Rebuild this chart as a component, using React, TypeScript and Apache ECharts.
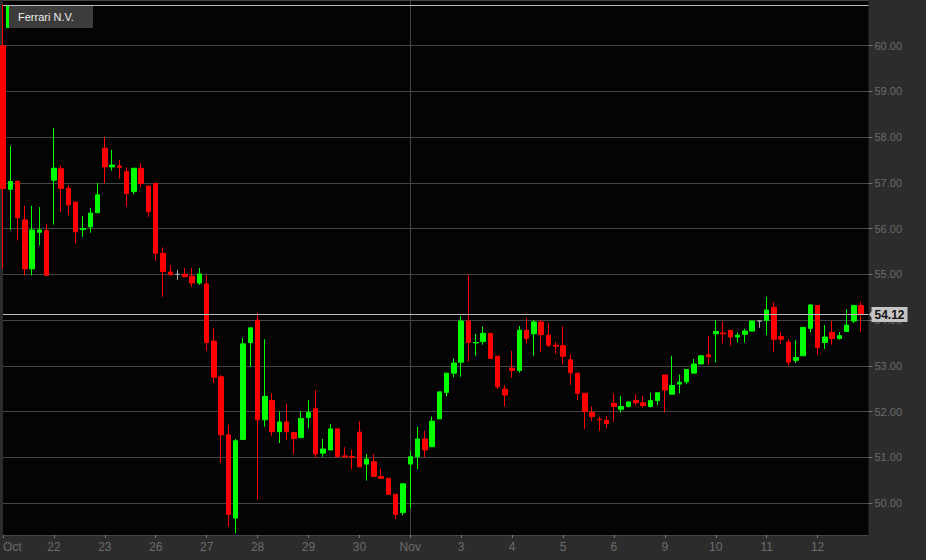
import React, { useEffect, useRef } from "react";
import * as echarts from "echarts";

// Tick labels for each trading day (first hourly candle of each day carries the label)
const dayLabels = ["Oct", "22", "23", "26", "27", "28", "29", "30", "Nov", "3", "4", "5", "6", "9", "10", "11", "12"];
const hourSlots = ["09:30", "10:30", "11:30", "12:30", "13:30", "14:30", "15:30"];

const opens = [
  60.0, 56.86, 57.03, 56.19, 55.12, 55.92, 55.96,
  57.06, 57.31, 56.88, 56.58, 55.98, 56.04, 56.35,
  57.76, 57.35, 57.37, 57.25, 56.81, 57.32, 56.93,
  56.99, 55.46, 55.05, 55.0, 55.0, 54.96, 54.81,
  54.79, 53.54, 52.76, 51.49, 49.67, 51.39, 53.51,
  54.0, 51.82, 52.24, 51.56, 51.77, 51.54, 51.43,
  51.87, 52.06, 51.09, 51.16, 51.62, 51.03, 51.02,
  51.55, 50.85, 50.9, 50.58, 50.54, 50.19, 49.79,
  50.85, 51.01, 51.4, 51.23, 51.84, 52.42, 52.84,
  53.08, 53.98, 53.5, 53.53, 53.71, 53.21, 52.49,
  52.95, 52.9, 53.78, 53.7, 53.96, 53.67, 53.45,
  53.44, 53.13, 52.84, 52.4, 51.98, 51.83, 51.81,
  52.18, 52.05, 52.11, 52.24, 52.19, 52.11, 52.24,
  52.8, 52.38, 52.6, 52.65, 52.84, 53.04, 53.24,
  53.7, 53.72, 53.77, 53.63, 53.69, 53.76, 53.98,
  53.99, 54.28, 53.64, 53.52, 53.12, 53.22, 53.82,
  54.32, 53.51, 53.73, 53.6, 53.75, 53.98, 54.32,
];
const closes = [
  56.88, 57.03, 56.24, 55.12, 55.97, 55.97, 54.98,
  57.32, 56.88, 56.52, 55.93, 56.0, 56.34, 56.74,
  57.35, 57.39, 57.34, 56.77, 57.32, 56.99, 56.37,
  55.46, 55.06, 54.99, 55.0, 54.95, 54.81, 55.01,
  53.51, 52.75, 51.49, 49.75, 51.36, 53.48, 53.83,
  51.82, 52.33, 51.56, 51.77, 51.56, 51.41, 51.85,
  51.98, 51.07, 51.18, 51.62, 51.01, 51.01, 51.0,
  50.79, 50.96, 50.58, 50.54, 50.19, 49.75, 50.42,
  51.01, 51.4, 51.16, 51.79, 52.43, 52.84, 53.06,
  53.98, 53.51, 53.51, 53.71, 53.16, 52.54, 52.36,
  52.9, 53.78, 53.6, 53.96, 53.68, 53.45, 53.43,
  53.21, 52.85, 52.4, 52.0, 51.89, 51.82, 51.74,
  52.11, 52.11, 52.21, 52.19, 52.13, 52.24, 52.41,
  52.47, 52.57, 52.64, 52.92, 53.04, 53.22, 53.2,
  53.75, 53.7, 53.63, 53.67, 53.76, 53.98, 53.98,
  54.22, 53.58, 53.58, 53.08, 53.18, 53.84, 54.33,
  53.4, 53.63, 53.6, 53.66, 53.89, 54.32, 54.12,
];
const lows = [
  55.12, 55.97, 55.74, 54.98, 54.98, 55.63, 54.97,
  56.09, 56.37, 56.29, 55.68, 55.82, 55.91, 56.34,
  56.99, 57.27, 57.09, 56.48, 56.75, 56.9, 56.26,
  55.3, 54.51, 54.98, 54.88, 54.94, 54.73, 54.77,
  53.33, 52.62, 50.88, 49.48, 49.34, 51.39, 52.98,
  50.08, 51.67, 51.47, 51.31, 51.38, 51.07, 51.43,
  51.63, 50.99, 51.01, 51.16, 51.01, 51.0, 50.74,
  50.79, 50.49, 50.58, 50.54, 50.19, 49.64, 49.73,
  49.88, 50.74, 51.0, 51.23, 51.84, 52.33, 52.75,
  52.76, 53.09, 53.22, 53.46, 53.16, 52.49, 52.11,
  52.74, 52.85, 53.49, 53.22, 53.31, 53.41, 53.26,
  53.04, 52.58, 52.25, 51.62, 51.79, 51.58, 51.63,
  51.78, 51.98, 52.09, 52.13, 52.09, 52.09, 52.14,
  51.98, 52.38, 52.4, 52.6, 52.84, 53.04, 53.02,
  53.07, 53.49, 53.44, 53.51, 53.51, 53.76, 53.83,
  53.67, 53.31, 53.48, 53.0, 53.06, 53.22, 53.73,
  53.24, 53.37, 53.46, 53.57, 53.75, 53.93, 53.75,
];
const highs = [
  60.9, 57.81, 57.06, 56.5, 56.5, 56.47, 56.1,
  58.2, 57.38, 56.95, 56.58, 56.28, 56.45, 57.0,
  58.0, 57.72, 57.5, 57.34, 57.32, 57.43, 56.93,
  56.99, 55.59, 55.2, 55.1, 55.14, 55.14, 55.14,
  54.98, 53.82, 52.8, 51.71, 51.4, 53.61, 53.83,
  54.15, 53.58, 52.4, 52.0, 52.17, 51.56, 52.01,
  52.25, 52.47, 51.4, 51.73, 51.62, 51.22, 51.16,
  51.79, 51.07, 51.07, 50.74, 50.54, 50.19, 50.42,
  51.14, 51.67, 51.58, 51.89, 52.43, 52.84, 53.16,
  54.09, 54.99, 53.7, 53.86, 53.71, 53.21, 52.58,
  53.33, 53.87, 54.05, 54.0, 54.0, 53.94, 53.52,
  53.86, 53.24, 52.84, 52.4, 52.11, 51.89, 51.9,
  52.4, 52.34, 52.21, 52.38, 52.34, 52.41, 52.41,
  52.8, 53.22, 52.81, 52.92, 53.15, 53.23, 53.65,
  54.0, 53.97, 53.79, 53.73, 53.81, 53.98, 53.98,
  54.51, 54.39, 53.75, 53.58, 53.56, 53.84, 54.35,
  54.32, 53.89, 53.98, 53.74, 54.24, 54.32, 54.4,
];

const instrumentName = "Ferrari N.V.";
const lastPrice = 54.12;
const sessionHigh = 60.89;
const yMin = 49.3;
const yMax = 61;

const UP = "#00ff00";
const DOWN = "#ff0000";
const DOJI = "#aaaaaa";
const AXIS_TEXT = "#6b6b6b";
const FONT = "Arial, 'Liberation Sans', sans-serif";

export default function App() {
  const ref = useRef<HTMLDivElement>(null);

  useEffect(() => {
    if (!ref.current) return;
    const chart = echarts.init(ref.current, undefined, { renderer: "svg" });

    const categories: string[] = [];
    dayLabels.forEach((d) => hourSlots.forEach((h) => categories.push(d + "|" + h)));
    const candleCount = categories.length;
    categories.push(""); // trailing slot at right edge

    const data = opens.map((o, i) => {
      const value = [o, closes[i], lows[i], highs[i]];
      if (o === closes[i]) {
        return {
          value,
          itemStyle: { color: DOJI, color0: DOJI, borderColor: DOJI, borderColor0: DOJI },
        };
      }
      return { value };
    });

    const isDayStart = (i: number) => i % hourSlots.length === 0 && i < candleCount;
    const novIndex = dayLabels.indexOf("Nov") * hourSlots.length;

    chart.setOption({
      animation: false,
      backgroundColor: "#2c2c2c",
      grid: {
        left: 0,
        top: 0,
        right: 57.5,
        bottom: 25,
        show: true,
        backgroundColor: "#040404",
        borderWidth: 0,
      },
      xAxis: {
        type: "category",
        data: categories,
        boundaryGap: false,
        axisLine: { show: false },
        axisTick: {
          show: true,
          interval: (i: number) => isDayStart(i),
          length: 3,
          lineStyle: { color: "#777777" },
        },
        axisLabel: {
          interval: (i: number) => isDayStart(i),
          formatter: (v: string) => v.split("|")[0],
          color: AXIS_TEXT,
          fontSize: 12,
          fontFamily: FONT,
          margin: 6,
          alignMinLabel: "left",
        },
        splitLine: {
          show: true,
          interval: (i: number) => i === novIndex,
          lineStyle: { color: "#454545", width: 1 },
        },
      },
      yAxis: {
        type: "value",
        position: "right",
        min: yMin,
        max: yMax,
        splitNumber: 12,
        axisLine: { show: false },
        axisTick: { show: true, length: 4, lineStyle: { color: "#777777" } },
        axisLabel: {
          color: AXIS_TEXT,
          fontSize: 11,
          fontFamily: FONT,
          margin: 6,
          showMinLabel: false,
          showMaxLabel: false,
          formatter: (v: number) => v.toFixed(2),
        },
        splitLine: { show: true, lineStyle: { color: "#454545", width: 1 } },
      },
      series: [
        {
          type: "candlestick",
          data,
          barWidth: 5,
          itemStyle: {
            color: UP,
            color0: DOWN,
            borderColor: UP,
            borderColor0: DOWN,
            borderColorDoji: DOJI,
            borderWidth: 1,
          },
          markLine: {
            silent: true,
            symbol: ["none", "none"],
            lineStyle: { color: "#bdbdbd", width: 1, type: "solid" },
            data: [
              { yAxis: sessionHigh, label: { show: false } },
              {
                yAxis: lastPrice,
                label: {
                  show: true,
                  position: "end",
                  distance: 3,
                  formatter: lastPrice.toFixed(2),
                  backgroundColor: "#c4c4c4",
                  color: "#111111",
                  fontWeight: "bold",
                  fontSize: 12,
                  fontFamily: FONT,
                  padding: [2, 3, 1, 3],
                },
              },
            ],
          },
        },
      ],
    });

    const py = chart.convertToPixel({ yAxisIndex: 0 }, lastPrice) as number;
    const gridRight = chart.convertToPixel({ xAxisIndex: 0 }, categories.length - 1) as number;

    chart.setOption({
      graphic: [
        {
          type: "polygon",
          shape: { points: [[gridRight + 0.5, py], [gridRight + 4, py - 4], [gridRight + 4, py + 4]] },
          style: { fill: "#c4c4c4" },
          silent: true,
        },
        {
          type: "rect",
          left: 6,
          top: 6,
          shape: { width: 3, height: 22 },
          style: { fill: UP },
          silent: true,
        },
        {
          type: "rect",
          left: 9,
          top: 6,
          shape: { width: 84, height: 22 },
          style: { fill: "#3c3c3c" },
          silent: true,
        },
        {
          type: "text",
          left: 18,
          top: 11,
          style: { text: instrumentName, fill: "#eeeeee", font: "11px " + FONT },
          silent: true,
        },
      ],
    });

    return () => chart.dispose();
  }, []);

  return (
    <div
      ref={ref}
      style={{ position: "absolute", left: 0, top: 0, width: 926, height: 560 }}
    />
  );
}
